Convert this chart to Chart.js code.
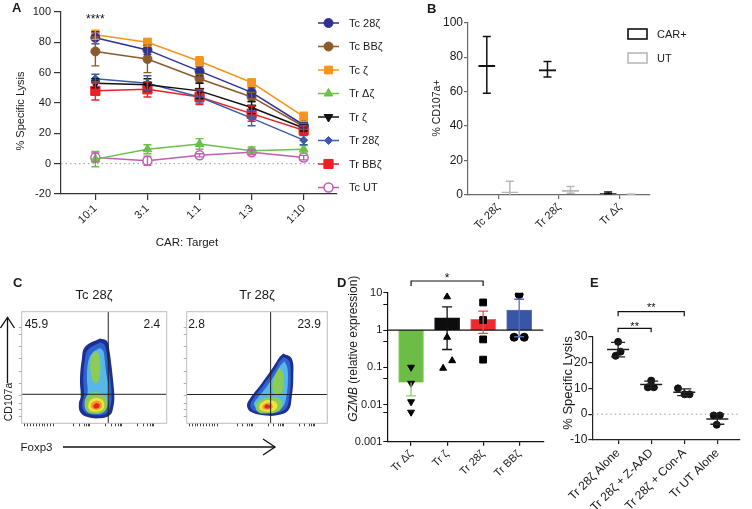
<!DOCTYPE html>
<html>
<head>
<meta charset="utf-8">
<script src="https://cdn.jsdelivr.net/npm/chart.js@4.4.1/dist/chart.umd.min.js"></script>
<style>
  html, body { margin: 0; padding: 0; background: #fff; }
  #fig { position: relative; width: 752px; height: 509px; overflow: hidden; }
  canvas { position: absolute; }
  svg { position: absolute; left: 0; top: 0; pointer-events: none; }
  svg text { font-family: "Liberation Sans", Arial, Helvetica, sans-serif; fill: #1a1a1a; }
</style>
</head>
<body>
<div id="fig">
  <canvas id="cB" style="left:380px;top:0" width="372" height="265"></canvas>
  <canvas id="cA" style="left:0;top:0" width="400" height="265"></canvas>
  <canvas id="cC1" style="left:0;top:300px" width="175" height="130"></canvas>
  <canvas id="cC2" style="left:175px;top:300px" width="160" height="130"></canvas>
  <canvas id="cD" style="left:330px;top:270px" width="230" height="239"></canvas>
  <canvas id="cE" style="left:560px;top:270px" width="192" height="239"></canvas>
  <svg width="752" height="509">
    <g font-weight="bold" font-size="13">
      <text x="12" y="12">A</text>
      <text x="427" y="12.5">B</text>
      <text x="13" y="286.5">C</text>
      <text x="337" y="286.5">D</text>
      <text x="590" y="286.5">E</text>
    </g>
    <text x="187" y="245.5" font-size="11.5" text-anchor="middle">CAR: Target</text>
    <text transform="translate(19.5,111) rotate(-90)" font-size="11" text-anchor="middle" dominant-baseline="central">% Specific Lysis</text>
    <text transform="translate(436,108) rotate(-90)" font-size="10.5" text-anchor="middle" dominant-baseline="central">% CD107a+</text>
    <text transform="translate(353,421.7) rotate(-90)" font-size="12" dominant-baseline="central"><tspan font-style="italic">GZMB</tspan> (relative expression)</text>
    <text transform="translate(567.5,383) rotate(-90)" font-size="13" text-anchor="middle" dominant-baseline="central">% Specific Lysis</text>
    <text x="94" y="299" font-size="13" text-anchor="middle">Tc 28ζ</text>
    <text x="257" y="299" font-size="13" text-anchor="middle">Tr 28ζ</text>
    <g stroke="#111" stroke-width="1.3" fill="none">
      <line x1="7.5" y1="383" x2="7.5" y2="317.5"/>
      <polyline points="0.5,328 7.5,317.5 14.5,328"/>
      <line x1="63" y1="447" x2="275" y2="447"/>
      <polyline points="263,439 275,447 263,455"/>
    </g>
    <text transform="translate(7.5,402) rotate(-90)" font-size="10.5" text-anchor="middle" dominant-baseline="central">CD107a</text>
    <text x="20.5" y="451" font-size="11.5">Foxp3</text>
  </svg>
</div>
<script>
// ---- A: cytotoxicity vs CAR:target ratio ----
const ratios = ['10:1', '3:1', '1:1', '1:3', '1:10'];
const tc28 = [83, 75, 61, 47, 25.5];
const tc28Err = [4, 3, 3, 3, 2];
const tcBB = [74, 69, 56, 44, 24.5];
const tcBBErr = [9.5, 9, 3, 3, 2];
const tcZ = [85, 80, 67.5, 53.5, 31];
const tcZErr = [3, 2.5, 3, 2, 3];
const trDZ = [3, 9.5, 13, 8.5, 9.5];
const trDZErr = [5, 3, 3.5, 2.5, 2.5];
const trZ = [53, 52, 48, 37, 23.5];
const trZErr = [3, 4, 5, 4, 2];
const tr28 = [56, 53, 44, 30, 15.5];
const tr28Err = [3, 5, 4, 5, 3];
const trBB = [48, 49, 44, 33, 22];
const trBBErr = [6, 5, 5, 5, 3];
const tcUT = [4, 2, 5.5, 7.5, 4];
const tcUTErr = [3, 3, 1, 1.5, 1.5];

// ---- B: CD107a ----
const bGroups = ['Tc 28ζ', 'Tr 28ζ', 'Tr Δζ'];
const bCar = [75.5, 73, 1.2];
const bCarErr = [16.5, 4.5, 0.5];
const bUt = [2, 3, 0.4];
const bUtErr = [6, 2, 0.2];

// ---- C: flow plots (contours, % of axis range), outer -> inner ----
const tcOuter = [[54,76],[58.6,74],[60.4,65.7],[62,50.7],[63.2,36.1],[63.9,23.8],[63.2,14.9],[60.9,7.4],[54,4.5],[44.8,5.9],[40.2,10.4],[39.5,18.2],[40.7,23.8],[40.2,38.8],[41.4,56.7],[43.7,68.6]];
const tcBlue = [[54,72.5],[57,70.5],[58.6,62],[60.2,48],[61.5,35],[62,24],[61.2,15.5],[59,9.5],[54,7.3],[46,8.3],[42.4,12],[41.8,18.5],[43,24.5],[42.5,39.5],[43.5,56],[45.8,66]];
const tcCyan = [[54,67.5],[56.3,64.5],[57.3,56],[58.3,45],[59.8,34],[60.2,24.5],[59.3,17],[56.7,11.5],[52,10],[46.5,11],[44,14.5],[44,20.5],[45.5,27.5],[45,41],[46,56],[49,63.5]];
const tcGreenTop = [[51,65],[53.3,61.5],[54.3,52],[54,43],[52.3,36.5],[49.8,36.5],[48,42.5],[47.2,52],[48.3,60.5]];
const tcGreenLow = [[51,28],[56,26],[59,20],[58.5,13],[55,9],[50,8.5],[45.5,10],[43.5,15],[44,22],[47,26.5]];
const tcYellow = [[51,23],[55,21.5],[57,17],[56,12.5],[52,10.5],[48,11],[46,14],[46.5,19],[48.5,22]];
const tcOrange = [[51.5,20.5],[54.5,19],[55.3,15],[53,12.3],[50,12.3],[47.8,14.5],[48.5,18.5]];
const tcRed = [[51.3,18.5],[53.6,17],[53.3,14.2],[50.6,13.3],[49.3,15.5]];
const trOuter = [[68.7,62.6],[74.7,58.1],[75.8,41.6],[74.7,23.6],[72.3,11.7],[64,7.2],[54.5,7.2],[46.2,9.8],[42.9,15.5],[45.2,22.5],[53.3,35.7],[61.6,50.6],[65.8,59]];
const trBlue = [[69,59.5],[73,55.5],[74,41],[73,24],[70.5,13],[63.5,9.5],[54.5,9.5],[47.5,11.5],[45.2,16],[47.3,22],[55,35],[62.8,48.5],[66.3,56]];
const trCyan = [[69.5,55.5],[71.5,50],[72,40],[71,25],[68.5,15],[63,12],[55,11.8],[49.5,13.8],[47.8,17.5],[50,22],[57,33],[63.5,45],[66.5,51.5]];
const trGreenTop = [[66,50],[68.5,45],[69,35],[67.5,28],[63.5,25],[61,31],[62.5,42]];
const trGreenLow = [[60,24],[66,22.5],[68,16],[65,10.5],[57,8.8],[51,10],[49,15],[52,20.5]];
const trYellow = [[58,21],[63,19.3],[64.5,15],[61.5,11],[56,10.5],[52,12.5],[52,16.5],[55,19.8]];
const trOrange = [[57.5,18.7],[60.5,17.3],[61,14],[58,12.3],[54.5,12.8],[54,16]];
const trRed = [[57,17],[59.2,16],[58.8,13.5],[55.8,13.6],[55.5,16]];
const tcGate = [59.7, 26];
const trGate = [59.7, 25.8];
const tcQuad = ['45.9', '2.4'];
const trQuad = ['2.8', '23.9'];
const flowTicksX = [2,4,6,8,10,12,14,16,18,20,22,36,40,43,45,46,47,58,62,65,67,68,69,80,84,87,89,90,91];
const flowTicksY = [6,12,18,24.5,36,46,58,69,80,86];

// ---- D: GZMB ----
const dGroups = ['Tr Δζ', 'Tr ζ', 'Tr 28ζ', 'Tr BBζ'];
const dMean = [0.039, 2.14, 1.94, 3.45];
const dErrLo = [0.017, 0.30, 0.81, 0.66];
const dErrHi = [0.039, 4.2, 3.2, 6.7];
const dReps = [[0.10, 0.037, 0.0118, 0.0062], [7.8, 0.64, 0.15, 0.094], [5.5, 1.86, 0.56, 0.16], [9, 0.64, 0.64]];
const dJitter = [[0, 0, 0, 0], [0, 0, 0.14, -0.11], [0, 0, 0, 0], [0, -0.14, 0.14]];

// ---- E: lysis with inhibitors ----
const eGroups = ['Tr 28ζ Alone', 'Tr 28ζ + Z-AAD', 'Tr 28ζ + Con-A', 'Tr UT Alone'];
const eReps = [[28, 24.2, 22.6], [13, 10.4, 10.4], [10, 7.7, 7.7], [-0.5, -0.5, -4.1]];
const eJitter = [[0, 0.075, -0.075], [0, -0.1, 0.08], [-0.19, 0.01, 0.16], [-0.11, 0.075, -0.02]];
const eMean = [25, 11.5, 8.5, -1.9];
const eSD = [2.8, 1.3, 1.3, 2];

Chart.defaults.font.family = '"Liberation Sans", Arial, Helvetica, sans-serif';
Chart.defaults.color = '#1a1a1a';
Chart.defaults.animation = false;
Chart.defaults.plugins.legend.display = false;
Chart.defaults.plugins.tooltip.enabled = false;

const fixW = w => s => { s.width = w; };
const fixH = h => s => { s.height = h; };
const axis = (color, tick) => ({
  border: { display: true, color: color, width: 1.2 },
  grid: { drawOnChartArea: false, tickLength: tick, color: color, lineWidth: 1.2, offset: false }
});
const atIndex = labels => s => { s.ticks = labels.map((_, i) => ({ value: i })); };

// error bars drawn through the y scale
const errorBars = {
  id: 'errorBars',
  afterDatasetsDraw(chart) {
    const { ctx, chartArea: a } = chart;
    chart.data.datasets.forEach((ds, di) => {
      if (!ds.err && !ds.errLo) return;
      const meta = chart.getDatasetMeta(di);
      const ys = chart.scales[meta.yAxisID];
      const cap = (ds.errCap || 8) / 2;
      ctx.save();
      ctx.beginPath();
      ctx.rect(a.left, a.top - 3, a.right - a.left, a.bottom - a.top + 3);
      ctx.clip();
      ctx.lineWidth = ds.errWidth || 1.4;
      meta.data.forEach((el, i) => {
        const raw = ds.data[i];
        const v = typeof raw === 'object' ? (Array.isArray(raw.y) ? raw.y[1] : raw.y) : raw;
        const lo = ds.errLo ? ds.errLo[i] : v - ds.err[i];
        const hi = ds.errHi ? ds.errHi[i] : v + ds.err[i];
        const yl = ys.getPixelForValue(lo), yh = ys.getPixelForValue(hi), x = el.x;
        ctx.strokeStyle = Array.isArray(ds.errColor) ? ds.errColor[i] : (ds.errColor || ds.borderColor);
        ctx.beginPath();
        ctx.moveTo(x, yl); ctx.lineTo(x, yh);
        if (lo !== v) { ctx.moveTo(x - cap, yl); ctx.lineTo(x + cap, yl); }
        if (hi !== v) { ctx.moveTo(x - cap, yh); ctx.lineTo(x + cap, yh); }
        ctx.stroke();
      });
      ctx.restore();
    });
  }
};

const zeroLine = {
  id: 'zeroLine',
  beforeDatasetsDraw(chart) {
    const { ctx, chartArea: a, scales: { y } } = chart;
    const py = y.getPixelForValue(0);
    ctx.save();
    ctx.strokeStyle = '#999'; ctx.lineWidth = 1; ctx.setLineDash([1.5, 3]);
    ctx.beginPath(); ctx.moveTo(a.left, py); ctx.lineTo(a.right, py); ctx.stroke();
    ctx.restore();
  }
};

function marks(items) {
  return {
    id: 'marks',
    afterDraw(chart) {
      const { ctx, chartArea: a, scales: { x } } = chart;
      ctx.save();
      ctx.strokeStyle = '#111'; ctx.fillStyle = '#111'; ctx.lineWidth = 1.2;
      ctx.textAlign = 'center';
      items.forEach(b => {
        const x1 = x.getPixelForValue(b.from), x2 = x.getPixelForValue(b.to), y = a.top + b.dy;
        if (b.tick) {
          ctx.beginPath();
          ctx.moveTo(x1, y + b.tick); ctx.lineTo(x1, y); ctx.lineTo(x2, y); ctx.lineTo(x2, y + b.tick);
          ctx.stroke();
        }
        ctx.font = b.font;
        ctx.fillText(b.text, (x1 + x2) / 2, y + b.textDy);
      });
      ctx.restore();
    }
  };
}

// ---------------- A ----------------
const seriesA = [
  { label: 'Tc 28ζ', v: tc28, e: tc28Err, color: '#2e3192', style: 'circle', r: 4.5 },
  { label: 'Tc BBζ', v: tcBB, e: tcBBErr, color: '#8c5a2b', style: 'circle', r: 4.5 },
  { label: 'Tc ζ', v: tcZ, e: tcZErr, color: '#f7941d', style: 'rect', r: 5.5 },
  { label: 'Tr Δζ', v: trDZ, e: trDZErr, color: '#6cbf4a', style: 'triangle', r: 5 },
  { label: 'Tr ζ', v: trZ, e: trZErr, color: '#111111', style: 'triangle', r: 5, rot: 180 },
  { label: 'Tr 28ζ', v: tr28, e: tr28Err, color: '#3c5ca8', style: 'rectRot', r: 4 },
  { label: 'Tr BBζ', v: trBB, e: trBBErr, color: '#ec2027', style: 'rect', r: 6.5 },
  { label: 'Tc UT', v: tcUT, e: tcUTErr, color: '#c25cb4', style: 'circle', r: 4.5, fill: '#ffffff', bw: 1.5 }
];

const legendA = {
  id: 'legendA',
  afterDraw(chart) {
    const ctx = chart.ctx;
    chart.data.datasets.forEach((ds, i) => {
      const y = 23 + i * 23.5;
      ctx.save();
      ctx.strokeStyle = ds.borderColor; ctx.lineWidth = 1.5;
      ctx.beginPath(); ctx.moveTo(318, y); ctx.lineTo(339, y); ctx.stroke();
      ctx.fillStyle = ds.pointBackgroundColor;
      ctx.lineWidth = ds.pointBorderWidth;
      Chart.helpers.drawPoint(ctx, { pointStyle: ds.pointStyle, rotation: ds.pointRotation, radius: ds.pointRadius, borderWidth: ds.pointBorderWidth }, 328.5, y);
      ctx.fillStyle = '#1a1a1a';
      ctx.font = '11px "Liberation Sans", Arial, sans-serif';
      ctx.textBaseline = 'middle';
      ctx.fillText(ds.label, 349, y + 0.5);
      ctx.restore();
    });
  }
};

new Chart(document.getElementById('cA'), {
  type: 'line',
  data: {
    datasets: seriesA.map(s => ({
      label: s.label,
      data: s.v.map((v, i) => ({ x: i, y: v })),
      err: s.e,
      errCap: 8, errWidth: 1.4,
      borderColor: s.color,
      backgroundColor: s.fill || s.color,
      borderWidth: 1.5,
      pointStyle: s.style,
      pointRotation: s.rot || 0,
      pointRadius: s.r,
      pointBorderWidth: s.bw || 1,
      pointBackgroundColor: s.fill || s.color,
      pointBorderColor: s.color,
      tension: 0
    }))
  },
  options: {
    responsive: false, devicePixelRatio: 1,
    layout: { padding: { left: 0, top: 12, right: 63, bottom: 0 } },
    scales: {
      x: {
        type: 'linear', min: -0.66, max: 4.64,
        afterFit: fixH(71), afterBuildTicks: atIndex(ratios),
        ticks: { callback: v => ratios[v], minRotation: 45, maxRotation: 45, padding: 2, font: { size: 11 } },
        ...axis('#333', 6)
      },
      y: {
        min: -20, max: 100, afterFit: fixW(61),
        ticks: { stepSize: 20, padding: 3, font: { size: 11 } },
        ...axis('#333', 7)
      }
    }
  },
  plugins: [zeroLine, errorBars, legendA, marks([{ from: 0, to: 0, dy: 10.5, tick: 0, text: '****', textDy: 0, font: '12px "Liberation Sans", Arial, sans-serif' }])]
});

// ---------------- B ----------------
const legendB = {
  id: 'legendB',
  afterDraw(chart) {
    const ctx = chart.ctx;
    chart.data.datasets.forEach((ds, i) => {
      const y = 29 + i * 24;
      ctx.save();
      ctx.strokeStyle = ds.borderColor; ctx.lineWidth = 1.6;
      ctx.strokeRect(248, y, 19, 10);
      ctx.fillStyle = '#1a1a1a';
      ctx.font = '11px "Liberation Sans", Arial, sans-serif';
      ctx.textBaseline = 'middle';
      ctx.fillText(ds.label, 277, y + 5.5);
      ctx.restore();
    });
  }
};

const barB = (label, data, err, color) => ({
  label: label, data: data, err: err, errCap: 8, errWidth: 1.5,
  borderColor: color, backgroundColor: 'rgba(0,0,0,0)',
  borderWidth: { top: 2, left: 0, right: 0, bottom: 0 },
  categoryPercentage: 0.76, barPercentage: 0.74
});

new Chart(document.getElementById('cB'), {
  type: 'bar',
  data: { labels: bGroups, datasets: [barB('CAR+', bCar, bCarErr, '#111111'), barB('UT', bUt, bUtErr, '#b8b8b8')] },
  options: {
    responsive: false, devicePixelRatio: 1,
    layout: { padding: { left: 0, top: 22.7, right: 102, bottom: 0 } },
    scales: {
      x: {
        afterFit: fixH(70),
        ticks: { minRotation: 45, maxRotation: 45, padding: 2, font: { size: 11 } },
        ...axis('#6a6a6a', 4)
      },
      y: {
        min: 0, max: 100, afterFit: fixW(88),
        ticks: { stepSize: 20, padding: 1, font: { size: 12 } },
        ...axis('#6a6a6a', 4)
      }
    }
  },
  plugins: [errorBars, legendB]
});

// ---------------- C ----------------
const contourColors = ['#1d2f93', '#2f62cf', '#55b8e8', '#8ccb55', '#8ccb55', '#f1e33b', '#f5972a', '#e3261f'];

function flowChart(id, contours, gate, quad, pad, quadPad) {
  const datasets = [
    { data: [{ x: gate[0], y: 0 }, { x: gate[0], y: 100 }] },
    { data: [{ x: 0, y: gate[1] }, { x: 100, y: gate[1] }] }
  ].map(d => Object.assign(d, { showLine: true, borderColor: '#222', borderWidth: 1, pointRadius: 0, fill: false }));
  contours.map((pts, i) => ({
    data: pts.concat([pts[0]]).map(p => ({ x: p[0], y: p[1] })),
    showLine: true, fill: 'shape', tension: 0.4, borderWidth: 0, pointRadius: 0,
    backgroundColor: contourColors[i], borderColor: contourColors[i]
  })).reverse().forEach(d => datasets.push(d));

  const frame = {
    id: 'frame',
    afterDraw(chart) {
      const { ctx, chartArea: a } = chart;
      ctx.save();
      ctx.strokeStyle = '#bdbdbd'; ctx.lineWidth = 1;
      ctx.strokeRect(a.left, a.top, a.right - a.left, a.bottom - a.top);
      ctx.fillStyle = '#1a1a1a';
      ctx.font = '12px "Liberation Sans", Arial, sans-serif';
      ctx.textBaseline = 'middle';
      ctx.textAlign = 'left';
      ctx.fillText(quad[0], a.left + quadPad[0], a.top + 12.5);
      ctx.textAlign = 'right';
      ctx.fillText(quad[1], a.right - quadPad[1], a.top + 12.5);
      ctx.restore();
    }
  };

  new Chart(document.getElementById(id), {
    type: 'scatter',
    data: { datasets: datasets },
    options: {
      responsive: false, devicePixelRatio: 1,
      layout: { padding: pad },
      scales: {
        x: {
          min: 0, max: 100, afterFit: fixH(5),
          afterBuildTicks: s => { s.ticks = flowTicksX.map(v => ({ value: v })); },
          ticks: { display: false }, border: { display: false },
          grid: { drawOnChartArea: false, tickLength: 3, color: '#111', lineWidth: 0.8 }
        },
        y: {
          min: 0, max: 100, afterFit: fixW(5),
          afterBuildTicks: s => { s.ticks = flowTicksY.map(v => ({ value: v })); },
          ticks: { display: false }, border: { display: false },
          grid: { drawOnChartArea: false, tickLength: 3, color: '#999', lineWidth: 0.8 }
        }
      }
    },
    plugins: [frame]
  });
}

flowChart('cC1', [tcOuter, tcBlue, tcCyan, tcGreenTop, tcGreenLow, tcYellow, tcOrange, tcRed], tcGate, tcQuad,
  { left: 16.7, top: 11.7, right: 8.3, bottom: 1.7 }, [3, 6.5]);
flowChart('cC2', [trOuter, trBlue, trCyan, trGreenTop, trGreenLow, trYellow, trOrange, trRed], trGate, trQuad,
  { left: 6.7, top: 11.7, right: 7.7, bottom: 1.7 }, [1.5, 6.5]);

// ---------------- D ----------------
const dMarkers = [
  { style: 'triangle', rot: 180 }, { style: 'triangle', rot: 0 }, { style: 'rect', rot: 0 }, { style: 'circle', rot: 0 }
];
const oneLine = {
  id: 'oneLine',
  afterDatasetsDraw(chart) {
    const { ctx, chartArea: a, scales: { y } } = chart;
    const py = y.getPixelForValue(1);
    ctx.save();
    ctx.strokeStyle = '#111'; ctx.lineWidth = 1.3;
    ctx.beginPath(); ctx.moveTo(a.left, py); ctx.lineTo(a.right, py); ctx.stroke();
    ctx.restore();
  }
};

new Chart(document.getElementById('cD'), {
  type: 'bar',
  data: {
    datasets: [
      {
        type: 'bar', order: 2,
        data: dMean.map((v, i) => ({ x: i, y: [1, v] })),
        backgroundColor: ['#6cbd45', '#0d0d0d', '#ee2a2e', '#3955a6'],
        borderColor: ['#98d37c', '#0d0d0d', '#f26266', '#5a73b8'],
        borderWidth: 1, barThickness: 25,
        errLo: dErrLo, errHi: dErrHi, errCap: 10, errWidth: 1.3,
        errColor: ['#86cf68', '#111111', '#ef4a4e', '#5570b8']
      }
    ].concat(dReps.map((reps, g) => ({
      type: 'scatter', order: 1,
      data: reps.map((v, k) => ({ x: g + dJitter[g][k], y: v })),
      pointStyle: dMarkers[g].style, pointRotation: dMarkers[g].rot,
      pointRadius: dMarkers[g].style === 'rect' ? 4.8 : 4,
      pointBackgroundColor: '#000', pointBorderColor: '#000', pointBorderWidth: 1
    })))
  },
  options: {
    responsive: false, devicePixelRatio: 1,
    layout: { padding: { left: 0, top: 22.8, right: 16.7, bottom: 0 } },
    scales: {
      x: {
        type: 'linear', min: -0.66, max: 3.67, offset: false,
        afterFit: fixH(67.3), afterBuildTicks: atIndex(dGroups),
        ticks: { callback: v => dGroups[v], minRotation: 45, maxRotation: 45, padding: 2, font: { size: 11 } },
        ...axis('#111', 4)
      },
      y: {
        type: 'logarithmic', min: 0.001, max: 10, afterFit: fixW(57.3),
        ticks: {
          padding: 1, font: { size: 11 },
          callback: v => {
            const l = Math.log10(v);
            return Math.abs(l - Math.round(l)) < 1e-6 ? String(+v.toPrecision(1)) : '';
          }
        },
        border: { display: true, color: '#111', width: 1.2 },
        grid: { drawOnChartArea: false, tickLength: 4, color: '#111', lineWidth: 1 }
      }
    }
  },
  plugins: [oneLine, errorBars, marks([{ from: 0, to: 2, dy: -11.8, tick: 5, text: '*', textDy: 1.3, font: '12px "Liberation Sans", Arial, sans-serif' }])]
});

// ---------------- E ----------------
new Chart(document.getElementById('cE'), {
  type: 'scatter',
  data: {
    datasets: [
      {
        data: eMean.map((v, i) => ({ x: i, y: v })),
        err: eSD, errCap: 14, errWidth: 1.4, errColor: '#222',
        pointStyle: 'line', pointRadius: 11, pointBorderWidth: 1.5, pointBorderColor: '#222', borderColor: '#222'
      },
      {
        data: eReps.flatMap((reps, g) => reps.map((v, k) => ({ x: g + eJitter[g][k], y: v }))),
        pointStyle: 'circle', pointRadius: 3.5, pointBackgroundColor: '#111', pointBorderColor: '#111'
      }
    ]
  },
  options: {
    responsive: false, devicePixelRatio: 1,
    layout: { padding: { left: 0, top: 66.7, right: 0, bottom: 0 } },
    scales: {
      x: {
        type: 'linear', min: -0.78, max: 3.67,
        afterFit: fixH(69), afterBuildTicks: atIndex(eGroups),
        ticks: { callback: v => eGroups[v], minRotation: 45, maxRotation: 45, padding: 2, font: { size: 12 } },
        ...axis('#222', 4)
      },
      y: {
        min: -10, max: 30, afterFit: fixW(32.3),
        ticks: { stepSize: 10, padding: 1, font: { size: 12 } },
        ...axis('#222', 4)
      }
    }
  },
  plugins: [zeroLine, errorBars, marks([
    { from: 0, to: 1, dy: -8.4, tick: 4, text: '**', textDy: 1.3, font: '11px "Liberation Sans", Arial, sans-serif' },
    { from: 0, to: 2, dy: -25, tick: 4.5, text: '**', textDy: -0.4, font: '11px "Liberation Sans", Arial, sans-serif' }
  ])]
});
</script>
</body>
</html>
